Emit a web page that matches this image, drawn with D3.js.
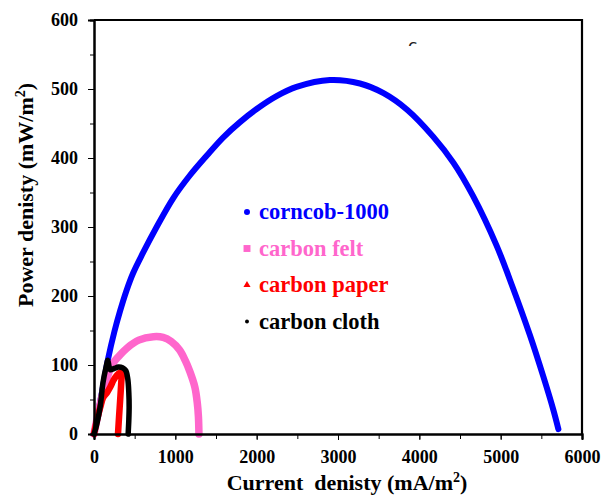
<!DOCTYPE html>
<html>
<head>
<meta charset="utf-8">
<script src="https://cdn.jsdelivr.net/npm/d3@7"></script>
<style>
	body { margin: 0; background: #fff; }
	svg { display: block; }
</style>
</head>
<body>
<div id="draw"></div>
<script>
// current density (mA/m2) and power density (mW/m2)
var corncobX = [0, 100, 175, 250, 320, 400, 480, 600, 770, 975, 1180, 1390, 1590, 1795, 2000, 2250, 2490, 2900, 3270, 3560, 3850, 4170, 4420, 4660, 4950, 5150, 5360, 5525, 5645, 5710];
var corncobY = [0, 62, 110, 148, 178, 208, 233, 262, 300, 342, 375, 404, 430, 452, 471, 490, 503, 513, 508, 494, 470, 431, 393, 345, 273, 212, 143, 83, 36, 7];
var feltX = [0, 60, 120, 180, 220, 300, 420, 550, 730, 850, 950, 1050, 1120, 1180, 1240, 1270, 1284, 1290];
var feltY = [0, 35, 65, 88, 100, 112, 126, 136, 141, 140, 134, 122, 107, 90, 68, 45, 25, 0];
var paperX = [0, 40, 80, 110, 160, 200, 240, 280, 320, 340, 335, 322, 308, 295];
var paperY = [0, 22, 40, 52, 60, 68, 78, 85, 89, 90, 75, 50, 25, 0];
var clothX = [0, 30, 75, 110, 150, 170, 185, 200, 250, 300, 350, 390, 415, 428, 432, 428, 420];
var clothY = [0, 12, 39, 74, 98, 107, 98, 93, 95, 97, 96, 92, 80, 60, 39, 20, 0];

var seriesNames = ["corncob-1000", "carbon felt", "carbon paper", "carbon cloth"];
var seriesColors = ["#0000ff", "#ff66cc", "#ff0000", "#000000"];
var xTicks = [0, 1000, 2000, 3000, 4000, 5000, 6000];
var yTicks = [0, 100, 200, 300, 400, 500, 600];

var serif = "Liberation Serif";

function drawPower() {
	var width = 602, height = 497;
	var left = 94, right = 582, top = 20, bottom = 434;

	var x = d3.scaleLinear().domain([0, 6000]).range([left, right]);
	var y = d3.scaleLinear().domain([0, 600]).range([bottom, top]);

	var svg = d3.select("#draw").append("svg")
		.attr("width", width)
		.attr("height", height);

	// frame top and right
	svg.append("path")
		.attr("d", "M" + left + "," + top + "H" + right + "V" + bottom)
		.attr("fill", "none")
		.attr("stroke", "#000")
		.attr("stroke-width", 2.2);

	var series = [
		{ xs: corncobX, ys: corncobY, w: 6 },
		{ xs: feltX, ys: feltY, w: 7.5 },
		{ xs: paperX, ys: paperY, w: 6.5 },
		{ xs: clothX, ys: clothY, w: 5.5 }
	];

	var line = d3.line()
		.x(function(d){ return x(d[0]); })
		.y(function(d){ return y(d[1]); })
		.curve(d3.curveCatmullRom.alpha(0.5));

	svg.selectAll(".curve")
		.data(series)
		.enter()
		.append("path")
		.attr("class", "curve")
		.attr("d", function(s){ return line(d3.zip(s.xs, s.ys)); })
		.attr("fill", "none")
		.attr("stroke", function(s, i){ return seriesColors[i]; })
		.attr("stroke-width", function(s){ return s.w; })
		.attr("stroke-linecap", "round")
		.attr("stroke-linejoin", "round");

	// axes
	var xAxis = svg.append("g")
		.attr("transform", "translate(0," + bottom + ")")
		.call(d3.axisBottom(x).tickValues(d3.range(0, 6001, 500)).tickSize(5).tickFormat(""));
	xAxis.append("g")
		.call(d3.axisBottom(x).tickValues(xTicks).tickSize(6).tickPadding(10).tickFormat(d3.format("d")));
	var yAxis = svg.append("g")
		.attr("transform", "translate(" + left + ",0)")
		.call(d3.axisLeft(y).tickValues(d3.range(0, 601, 50)).tickSize(4).tickFormat(""));
	yAxis.append("g")
		.call(d3.axisLeft(y).tickValues(yTicks).tickSize(6).tickPadding(10).tickFormat(d3.format("d")));

	svg.selectAll(".domain").attr("stroke-width", 2);
	svg.selectAll(".tick line").attr("stroke", "#000");
	svg.selectAll(".tick text")
		.attr("fill", "#000")
		.style("font-family", serif)
		.style("font-weight", "bold")
		.style("font-size", "18px");

	// axis titles
	var xt = svg.append("text")
		.attr("x", 347)
		.attr("y", 490)
		.attr("text-anchor", "middle")
		.style("font-family", serif)
		.style("font-weight", "bold")
		.style("font-size", "22px");
	xt.append("tspan").text("Current\u00a0 denisty (mA/m");
	xt.append("tspan").attr("dy", -8).style("font-size", "14px").text("2");
	xt.append("tspan").attr("dy", 8).text(")");

	var yt = svg.append("text")
		.attr("transform", "translate(33,195) rotate(-90)")
		.attr("text-anchor", "middle")
		.style("font-family", serif)
		.style("font-weight", "bold")
		.style("font-size", "22px");
	yt.append("tspan").text("Power denisty (mW/m");
	yt.append("tspan").attr("dy", -8).style("font-size", "14px").text("2");
	yt.append("tspan").attr("dy", 8).text(")");

	// legend
	var legend = svg.selectAll(".legend")
		.data(seriesNames)
		.enter()
		.append("g")
		.attr("class", "legend")
		.attr("transform", function(d, i){ return "translate(247," + (212 + i * 36.5) + ")"; });

	var symbols = [d3.symbolCircle, d3.symbolSquare, d3.symbolTriangle, d3.symbolCircle];
	var symSizes = [28, 48, 22, 12];
	legend.append("path")
		.attr("d", function(d, i){ return d3.symbol().type(symbols[i]).size(symSizes[i])(); })
		.attr("fill", function(d, i){ return seriesColors[i]; });

	legend.append("text")
		.attr("x", 12)
		.attr("y", 7)
		.attr("fill", function(d, i){ return seriesColors[i]; })
		.style("font-family", serif)
		.style("font-weight", "bold")
		.style("font-size", "22.5px")
		.text(function(d){ return d; });

	// stray mark near the top
	svg.append("clipPath")
		.attr("id", "half")
		.append("rect")
		.attr("x", 404).attr("y", 38).attr("width", 16).attr("height", 8);
	svg.append("text")
		.attr("x", 408)
		.attr("y", 52)
		.attr("clip-path", "url(#half)")
		.style("font-family", "DejaVu Sans")
		.style("font-size", "17px")
		.attr("fill", "#222")
		.text("c");
}

drawPower();
</script>
</body>
</html>
